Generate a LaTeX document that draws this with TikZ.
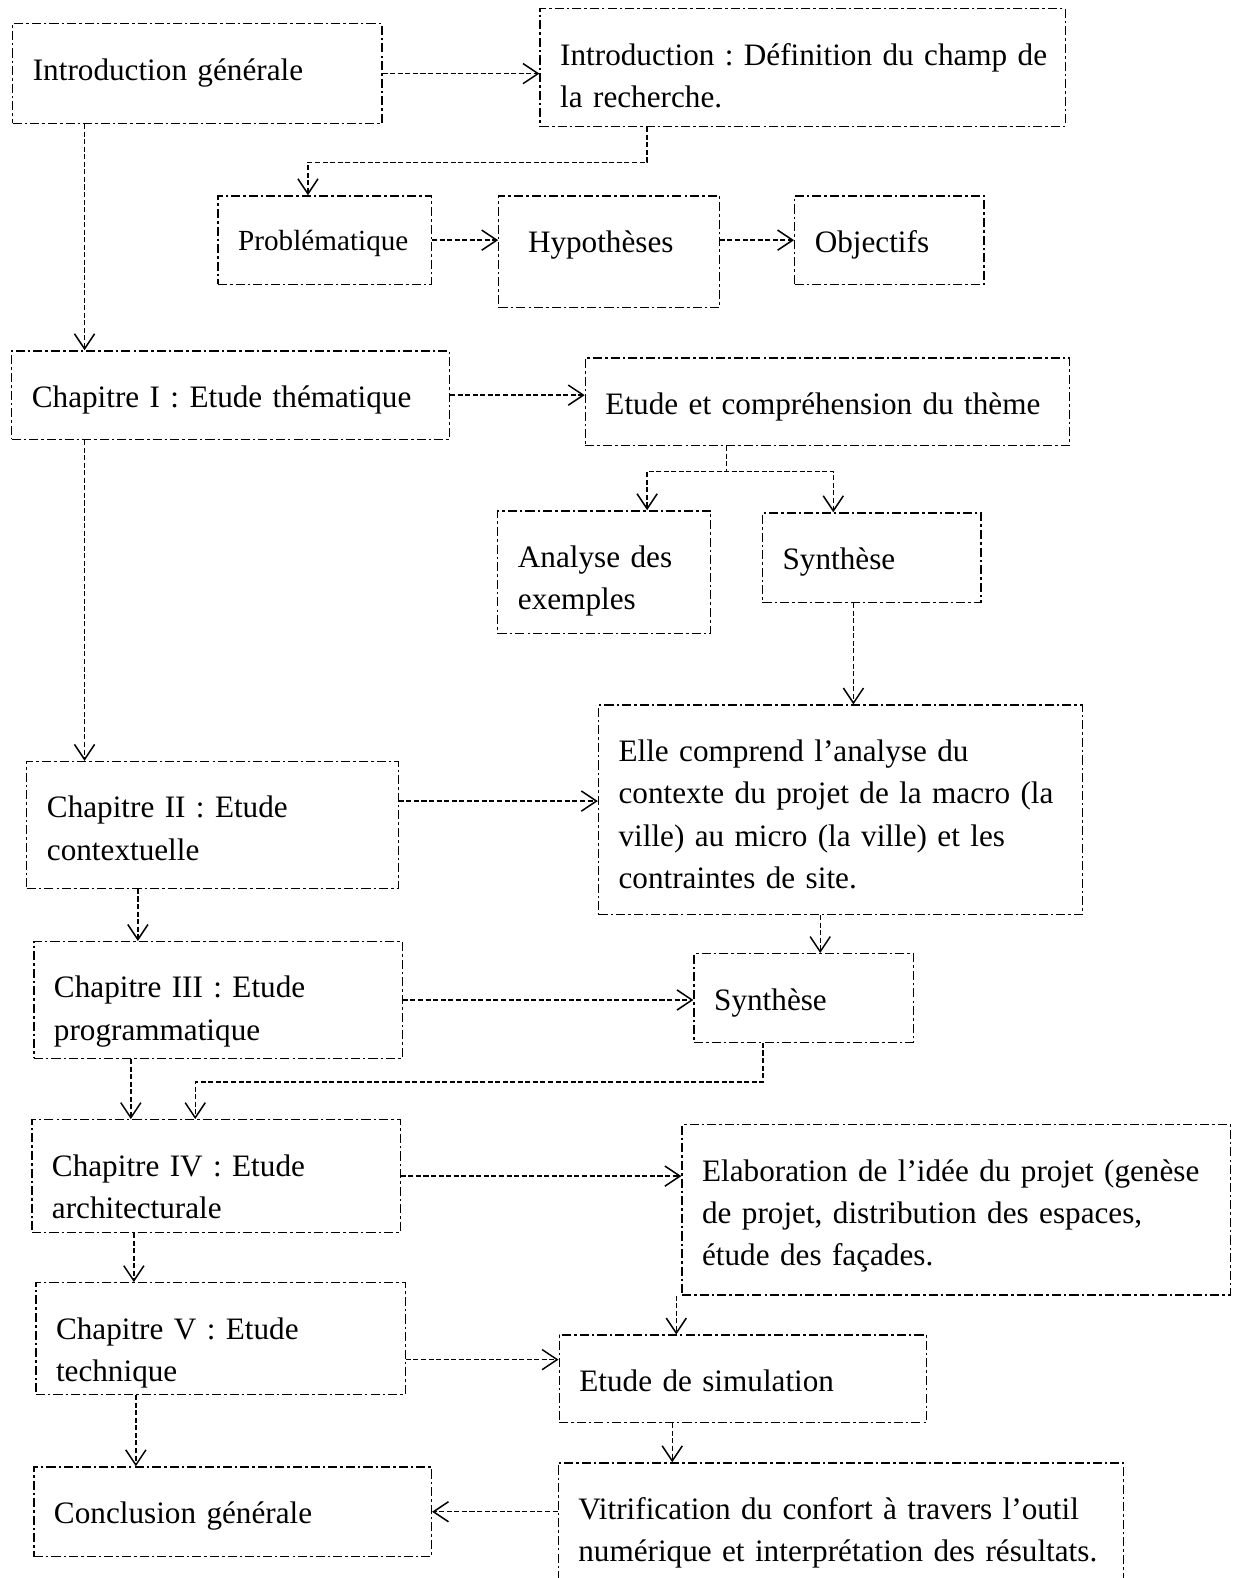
\documentclass[tikz,border=0pt]{standalone}
\usepackage{fontspec}
\setmainfont{Liberation Serif}
\usepackage{tikz}
\usetikzlibrary{arrows.meta,positioning,calc}
\frenchspacing

\begin{document}
\begin{tikzpicture}[
  x=1bp,
  y=-1bp,
  font=\fontsize{31bp}{42bp}\selectfont,
  mybox/.style 2 args={
    draw,
    line width=1.3bp,
    dash pattern=on 9bp off 3bp on 2.5bp off 3bp,
    anchor=north west,
    inner xsep=20bp,
    inner ysep=0bp,
    align=left,
    text width=#1,
    text height=56bp,
    text depth=#2
    },
  myarrow/.style={
    line width=1.4bp,
    dash pattern=on 5bp off 2.5bp,
    -{Straight Barb[length=15bp,width=20bp,line width=1.5bp]}
    }
]
\useasboundingbox (0,0) rectangle (1230,1568);

\node[mybox={327bp}{43bp}] (intro) at (12,23) {Introduction générale};
\node[mybox={482bp}{61bp}] (introdef) at (536,8) {\mbox{Introduction : Définition du champ de}\\la recherche.};
\node[mybox={172bp}{34bp}, text height=54bp, font=\fontsize{29bp}{42bp}\selectfont] (problem) at (216,194) {Problématique};
\node[mybox={161bp}{55bp}, inner xsep=29bp] (hypo) at (495,194) {Hypothèses};
\node[mybox={148bp}{32bp}] (obj) at (789,194) {Objectifs};

\node[mybox={395bp}{32bp}] (chap1) at (11,348) {Chapitre I : Etude thématique};
\node[mybox={441bp}{31bp}] (theme) at (581,355) {Etude et compréhension du thème};
\node[mybox={171bp}{66bp}] (analyse) at (494,507) {Analyse des\\exemples};
\node[mybox={177bp}{33bp}] (synth1) at (757,509) {Synthèse};

\node[mybox={441bp}{152bp}] (contexte) at (594,700) {Elle comprend l’analyse du\\contexte du projet de la macro (la\\ville) au micro (la ville) et les\\contraintes de site.};
\node[mybox={329bp}{70bp}] (chap2) at (26,756) {Chapitre II : Etude\\contextuelle};
\node[mybox={326bp}{60bp}] (chap3) at (33,935) {Chapitre III : Etude\\programmatique};
\node[mybox={178bp}{32bp}] (synth2) at (689,947) {Synthèse};

\node[mybox={326bp}{56bp}] (chap4) at (31,1112) {Chapitre IV : Etude\\architecturale};
\node[mybox={505bp}{113bp}] (elab) at (677,1117) {Elaboration de l’idée du projet (genèse\\de projet, distribution des espaces,\\étude des façades.};
\node[mybox={327bp}{55bp}] (chap5) at (35,1274) {Chapitre V : Etude\\technique};
\node[mybox={325bp}{31bp}] (simul) at (555,1326) {Etude de simulation};
\node[mybox={355bp}{33bp}] (concl) at (33,1457) {Conclusion générale};
\node[mybox={522bp}{200bp}] (vitri) at (554,1453) {Vitrification du confort à travers l’outil\\\mbox{numérique et interprétation des résultats.}};

\foreach \From/\To in {intro/introdef, problem/hypo, chap1/theme, chap3/synth2, chap4/elab}
  \draw[myarrow] (\From.east) -- (\From.east -| \To.west);
\foreach \From/\To/\Shift in {intro/chap1/72bp, chap1/chap2/73bp, chap2/chap3/111bp, chap3/chap4/97bp, chap4/chap5/102bp, chap5/concl/100bp}
  \draw[myarrow] ([xshift=\Shift]\From.south west) -- ([xshift=\Shift]\From.south west |- \To.north);

\draw[myarrow] ([xshift=107bp]introdef.south west) -- ++(0,35) -| ([xshift=90bp]problem.north west);
\draw[myarrow] (obj.west -| hypo.east) -- (obj.west);
\draw[myarrow] ([xshift=141bp]theme.south west) -- ++(0,25) -| ([xshift=149bp]analyse.north west);
\draw[myarrow] ([xshift=141bp]theme.south west) -- ++(0,25) -| ([xshift=71bp]synth1.north west);
\draw[myarrow] ([xshift=91bp]synth1.south west) -- ([xshift=91bp]synth1.south west |- contexte.north);
\draw[myarrow] ([yshift=-40bp]chap2.north east) -- ([yshift=-40bp]chap2.north east -| contexte.west);
\draw[myarrow] ([xshift=221bp]contexte.south west) -- ([xshift=221bp]contexte.south west |- synth2.north);
\draw[myarrow] ([xshift=69bp]synth2.south west) -- ++(0,39) -| ([xshift=163bp]chap4.north west);
\draw[myarrow] ([xshift=117bp]simul.north west |- elab.south) -- ([xshift=117bp]simul.north west);
\draw[myarrow] ([yshift=-25bp]simul.north west -| chap5.east) -- ([yshift=-25bp]simul.north west);
\draw[myarrow] ([xshift=113bp]simul.south west) -- ([xshift=113bp]simul.south west |- vitri.north);
\draw[myarrow] (concl.east -| vitri.west) -- (concl.east);

\end{tikzpicture}
\end{document}
